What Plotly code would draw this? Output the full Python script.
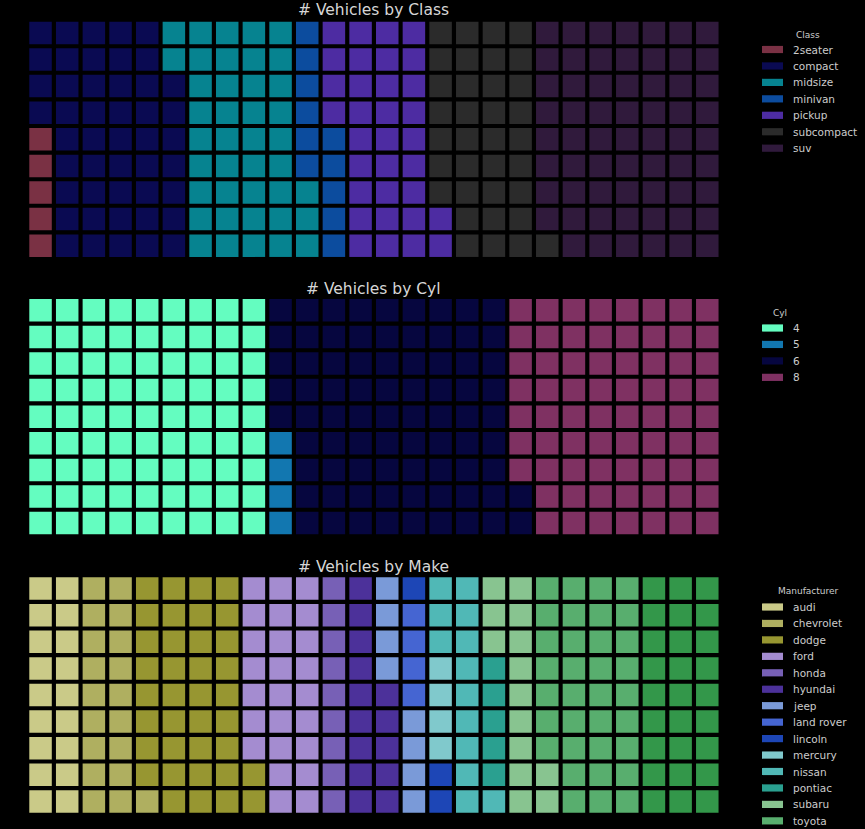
import plotly.graph_objects as go

# ---------------- data ----------------
class_names = ["2seater", "compact", "midsize", "minivan", "pickup", "subcompact", "suv"]
class_counts = [5, 47, 41, 11, 33, 35, 62]
class_colors = ["#7a3144", "#0a0a52", "#068390", "#0c4c9e", "#4d2ca2", "#2b2b2b", "#301a3c"]

cyl_names = ["4", "5", "6", "8"]
cyl_counts = [81, 4, 79, 70]
cyl_colors = ["#64fdc0", "#1277b0", "#06063f", "#7f3162"]

make_names = ["audi", "chevrolet", "dodge", "ford", "honda", "hyundai", "jeep",
              "land rover", "lincoln", "mercury", "nissan", "pontiac", "subaru",
              "toyota", "volkswagen"]
make_counts = [18, 19, 37, 25, 9, 14, 8, 4, 3, 4, 13, 5, 14, 34, 27]
make_colors = ["#caca88", "#afaf60", "#979631", "#a48cd0", "#7760b6", "#4c319a",
               "#7a9ad8", "#4565d2", "#1d46b6", "#80c9cc", "#50b8b6", "#2aa090",
               "#88c490", "#58ae6e", "#33974a"]

panels = [
    ("# Vehicles by Class", "Class", class_names, class_counts, class_colors),
    ("# Vehicles by Cyl", "Cyl", cyl_names, cyl_counts, cyl_colors),
    ("# Vehicles by Make", "Manufacturer", make_names, make_counts, make_colors),
]

N_ROWS = 9
N_COLS = 26

W, H = 865, 829
PITCH_X = 26.67
PITCH_Y = 26.6
X0 = 27.2
ROW0_TOP = [19.6, 297.0, 575.3]
TITLE_Y = [10, 289, 567]
LEG_TITLE_Y = [35, 313, 591]
LEG_TITLE_X = [808, 780, 808]
LEG_ITEM0_Y = [49.5, 328, 607]
LEG_STEP = 16.45

fig = go.Figure()
layout_axes = {}
annotations = []
shapes = []

x_dom = [X0 / W, (X0 + N_COLS * PITCH_X) / W]
title_x = (X0 + N_COLS * PITCH_X / 2) / W

for p, (title, leg_title, names, counts, colors) in enumerate(panels):
    ax = "" if p == 0 else str(p + 1)
    top = ROW0_TOP[p]
    bottom = top + N_ROWS * PITCH_Y
    y_dom = [1 - bottom / H, 1 - top / H]
    layout_axes["xaxis" + ax] = dict(domain=x_dom, range=[-0.5, N_COLS - 0.5], visible=False,
                                     fixedrange=True, anchor="y" + ax)
    layout_axes["yaxis" + ax] = dict(domain=y_dom, range=[-0.5, N_ROWS - 0.5], visible=False,
                                     fixedrange=True, anchor="x" + ax)

    start = 0
    for name, cnt, col in zip(names, counts, colors):
        idx = list(range(start, start + cnt))
        start += cnt
        xs = [i // N_ROWS for i in idx]
        ys = [i % N_ROWS for i in idx]
        fig.add_trace(go.Scatter(
            x=xs, y=ys, mode="markers", name=name, showlegend=False,
            xaxis="x" + ax, yaxis="y" + ax,
            marker=dict(symbol="square", size=22.5, color=col, line=dict(width=0)),
            hovertemplate=name + "<extra></extra>",
        ))

    # panel title
    annotations.append(dict(
        text=title, x=title_x, y=1 - TITLE_Y[p] / H, xref="paper", yref="paper",
        xanchor="center", yanchor="middle", showarrow=False,
        font=dict(family="DejaVu Sans", size=15.5, color="#d6d6d6"),
    ))
    # legend title
    annotations.append(dict(
        text=leg_title, x=LEG_TITLE_X[p] / W, y=1 - LEG_TITLE_Y[p] / H, xref="paper", yref="paper",
        xanchor="center", yanchor="middle", showarrow=False,
        font=dict(family="DejaVu Sans", size=9, color="#cccccc"),
    ))
    # legend entries
    for k, (name, col) in enumerate(zip(names, colors)):
        cy = LEG_ITEM0_Y[p] + k * LEG_STEP
        shapes.append(dict(
            type="rect", xref="paper", yref="paper",
            x0=762 / W, x1=783 / W, y0=1 - (cy + 3.6) / H, y1=1 - (cy - 3.6) / H,
            fillcolor=col, line=dict(width=0),
        ))
        annotations.append(dict(
            text=name, x=791 / W, y=1 - cy / H, xref="paper", yref="paper",
            xanchor="left", yanchor="middle", showarrow=False,
            font=dict(family="DejaVu Sans", size=10.5, color="#cccccc"),
        ))

fig.update_layout(
    width=W, height=H,
    margin=dict(l=0, r=0, t=0, b=0),
    paper_bgcolor="#000000", plot_bgcolor="#000000",
    showlegend=False,
    annotations=annotations, shapes=shapes,
    **layout_axes,
)

fig.write_html(
    "out.html",
    config={"displayModeBar": False},
    post_script="document.body.style.margin='0';document.body.style.background='#000';",
)
